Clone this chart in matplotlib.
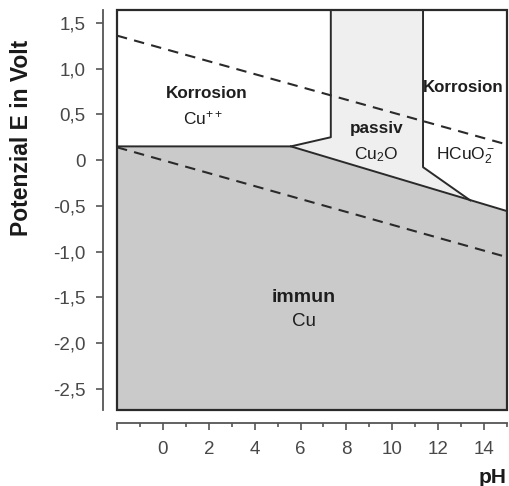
import matplotlib
matplotlib.use("Agg")
import matplotlib.pyplot as plt
from matplotlib.patches import Polygon, Rectangle
from matplotlib.ticker import FixedLocator

plt.rcParams['font.family'] = ['Liberation Sans', 'DejaVu Sans']
plt.rcParams['mathtext.default'] = 'regular'

# ---- data ----
ph_min, ph_max = -2.0, 15.0
e_min, e_max = -2.73, 1.64

x_major = [-2, 0, 2, 4, 6, 8, 10, 12, 14]
x_major_labels = ['', '0', '2', '4', '6', '8', '10', '12', '14']
x_minor = [-1, 1, 3, 5, 7, 9, 11, 13, 15]
y_ticks = [1.5, 1.0, 0.5, 0.0, -0.5, -1.0, -1.5, -2.0, -2.5]
y_tick_labels = ['1,5', '1,0', '0,5', '0', '-0,5', '-1,0', '-1,5', '-2,0', '-2,5']

# Cu++ / (Cu, Cu2O) boundary
cu2_ph = [-2.0, 5.58, 7.32, 7.32]
cu2_E = [0.15, 0.15, 0.25, 1.64]
# Cu / Cu2O boundary (continues to HCuO2-)
cu_ph = [5.58, 15.0]
cu_E = [0.15, -0.557]
# Cu2O / HCuO2- boundary
hcu_ph = [11.34, 11.34, 13.4]
hcu_E = [1.64, -0.077, -0.44]
# water stability lines (dashed)
o2_ph = [-2.0, 15.0]
o2_E = [1.36, 0.17]
h2_ph = [-2.0, 15.0]
h2_E = [0.14, -1.06]

# ---- figure ----
fig = plt.figure(figsize=(5.09, 4.86), dpi=100)
ax = fig.add_axes([117/509, 1-410/486, 390/509, 400/486])
ax.set_xlim(ph_min, ph_max)
ax.set_ylim(e_min, e_max)

line_c = '#2a2a2a'
# regions
immune = Polygon([(ph_min, e_min), (cu2_ph[0], cu2_E[0]), (cu2_ph[1], cu2_E[1]),
                  (cu_ph[1], cu_E[1]), (ph_max, e_min)],
                 closed=True, facecolor='#cacaca', edgecolor='none', zorder=1)
ax.add_patch(immune)
passive = Polygon([(cu2_ph[1], cu2_E[1]), (cu2_ph[2], cu2_E[2]), (cu2_ph[3], cu2_E[3]),
                   (hcu_ph[0], hcu_E[0]), (hcu_ph[1], hcu_E[1]), (hcu_ph[2], hcu_E[2])],
                  closed=True, facecolor='#efefef', edgecolor='none', zorder=1)
ax.add_patch(passive)

ax.plot(cu2_ph, cu2_E, color=line_c, lw=1.4, zorder=3)
ax.plot(cu_ph, cu_E, color=line_c, lw=1.4, zorder=3)
ax.plot(hcu_ph, hcu_E, color=line_c, lw=1.4, zorder=3)
ax.plot(o2_ph, o2_E, color=line_c, lw=1.5, ls=(0, (5, 3.5)), zorder=3)
ax.plot(h2_ph, h2_E, color=line_c, lw=1.5, ls=(0, (5, 3.5)), zorder=3)

# frame box
ax.add_patch(Rectangle((0, 0), 1, 1, transform=ax.transAxes, fill=False,
                       edgecolor=line_c, lw=1.6, zorder=4, clip_on=False))

# texts
tc = '#1e1e1e'
ax.text(1.93, 0.73, 'Korrosion', fontsize=12.3, fontweight='bold', color=tc, ha='center', va='center')
ax.text(1.75, 0.46, 'Cu$^{++}$', fontsize=12.5, color=tc, ha='center', va='center')
ax.text(9.3, 0.35, 'passiv', fontsize=12.3, fontweight='bold', color=tc, ha='center', va='center')
ax.text(9.3, 0.06, 'Cu$_2$O', fontsize=12.5, color=tc, ha='center', va='center')
ax.text(13.1, 0.79, 'Korrosion', fontsize=12.2, fontweight='bold', color=tc, ha='center', va='center')
ax.text(13.2, 0.05, 'HCuO$_2^-$', fontsize=12.5, color=tc, ha='center', va='center')
ax.text(6.15, -1.50, 'immun', fontsize=14, fontweight='bold', color=tc, ha='center', va='center')
ax.text(6.15, -1.76, 'Cu', fontsize=13.5, color=tc, ha='center', va='center')

# axes styling
for s in ['top', 'right']:
    ax.spines[s].set_visible(False)
ax.spines['left'].set_position(('outward', 10))
ax.spines['bottom'].set_position(('outward', 9.5))
ax.spines['left'].set_color('#555555')
ax.spines['bottom'].set_color('#555555')
ax.spines['left'].set_linewidth(1.3)
ax.spines['bottom'].set_linewidth(1.3)

ax.xaxis.set_major_locator(FixedLocator(x_major))
ax.set_xticklabels(x_major_labels)
ax.xaxis.set_minor_locator(FixedLocator(x_minor))
ax.set_yticks(y_ticks)
ax.set_yticklabels(y_tick_labels)
ax.tick_params(axis='both', which='major', length=5, width=1.2, color='#555555',
               labelsize=13.5, labelcolor='#484848', pad=7.5)
ax.tick_params(axis='x', which='minor', length=3, width=1.2, color='#555555')

ax.set_ylabel('Potenzial E in Volt', fontsize=16.5, fontweight='bold', color='#1a1a1a')
ax.yaxis.set_label_coords(-0.215, 0.68)
fig.text(493/509, 1-477/486, 'pH', fontsize=15, fontweight='bold', color='#1a1a1a',
         ha='center', va='center')

fig.savefig('out.png', dpi=100)
